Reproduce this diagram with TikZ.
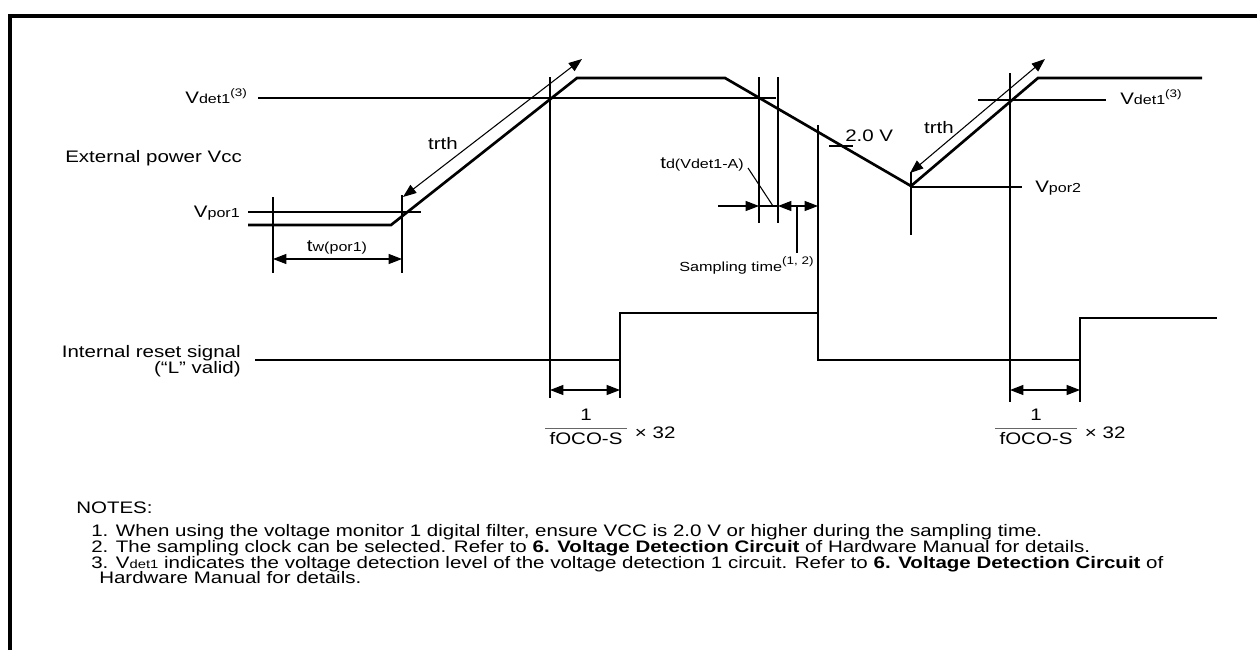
\documentclass[tikz,border=0pt]{standalone}
\usepackage{fontspec}
\setmainfont{Liberation Sans}
\usetikzlibrary{arrows.meta}
\newcommand\sx[1]{\scalebox{1.23}[1]{#1}}
\newcommand\lo[1]{\raisebox{-0.7pt}{\fontsize{9.8}{11}\selectfont #1}}
\newcommand\hi[1]{\raisebox{4.8pt}{\fontsize{8.2}{10}\selectfont #1}}
\newcommand\nlo[1]{\raisebox{-0.5pt}{\fontsize{9}{11}\selectfont #1}}
\begin{document}
\begin{tikzpicture}[x=0.75pt,y=-0.75pt,
  wave/.style={line width=2pt},
  thinl/.style={line width=0.8pt},
  dim/.style={line width=0.8pt,{Triangle[length=10pt,width=7.5pt]}-{Triangle[length=10pt,width=7.5pt]}},
  tip/.style={line width=0.8pt,-{Triangle[length=10pt,width=7.5pt]}},
  lbl/.style={font=\fontsize{12.5}{14}\selectfont,inner sep=0pt},
  small/.style={font=\fontsize{9.9}{12}\selectfont,inner sep=0pt},
  note/.style={font=\fontsize{12.5}{14}\selectfont,inner sep=0pt,anchor=base west}]
\useasboundingbox (0,0) rectangle (1257,650);
\draw[line width=2.5pt] (10,650) -- (10,16) -- (1257,16);

% Vcc waveform
\coordinate (a0) at (248,225);
\coordinate (a1) at (391,225);
\coordinate (a2) at (577,78);
\coordinate (a3) at (725,78);
\coordinate (a4) at (911,186);
\coordinate (a5) at (1038,78);
\coordinate (a6) at (1202,78);
\draw[wave] (a0) -- (a1) -- (a2) -- (a3) -- (a4) -- (a5) -- (a6);

% reset signal
\coordinate (r0) at (255,360);
\coordinate (r1) at (620,360);
\coordinate (r2) at (620,313);
\coordinate (r3) at (818,313);
\coordinate (r4) at (818,360);
\coordinate (r5) at (1080,360);
\coordinate (r6) at (1080,318);
\coordinate (r7) at (1217,318);
\draw[wave] (r0) -- (r1) -- (r2) -- (r3) -- (r4) -- (r5) -- (r6) -- (r7);

% level lines
\coordinate (vdl1) at (258,98);  \coordinate (vdl2) at (776,98);
\coordinate (vdr1) at (978,100); \coordinate (vdr2) at (1106,100);
\coordinate (vp1a) at (248,212); \coordinate (vp1b) at (421,212);
\coordinate (vp2a) at (911,187); \coordinate (vp2b) at (1022,187);
\draw[thinl] (vdl1) -- (vdl2);
\draw[thinl] (vdr1) -- (vdr2);
\draw[thinl] (vp1a) -- (vp1b);
\draw[thinl] (vp2a) -- (vp2b);

% vertical guide lines
\coordinate (g1t) at (273,197); \coordinate (g1b) at (273,273);
\coordinate (g2t) at (402,195); \coordinate (g2b) at (402,273);
\coordinate (g3t) at (550,77);  \coordinate (g3b) at (550,398);
\coordinate (g4t) at (759,77);  \coordinate (g4b) at (759,223);
\coordinate (g5t) at (778,77);  \coordinate (g5b) at (778,223);
\coordinate (g6t) at (818,125);
\coordinate (g7t) at (911,172); \coordinate (g7b) at (911,235);
\coordinate (g8t) at (1010,73); \coordinate (g8b) at (1010,402);
\coordinate (g9b) at (620,398);
\coordinate (g10b) at (1080,402);
\foreach \t/\b in {g1t/g1b,g2t/g2b,g3t/g3b,g4t/g4b,g5t/g5b,g6t/r4,g7t/g7b,g8t/g8b,r1/g9b,r5/g10b}
  \draw[thinl] (\t) -- (\b);

% trth arrows
\coordinate (t1a) at (403,197); \coordinate (t1b) at (582,59);
\coordinate (t2a) at (910,173); \coordinate (t2b) at (1045,59);
\draw[dim] (t1a) -- (t1b);
\draw[dim] (t2a) -- (t2b);

% tw arrow
\coordinate (tw1) at (273,259); \coordinate (tw2) at (402,259);
\draw[dim] (tw1) -- (tw2);

% reset delay arrows
\coordinate (d1a) at (550,390); \coordinate (d1b) at (620,390);
\coordinate (d2a) at (1010,390); \coordinate (d2b) at (1080,390);
\draw[dim] (d1a) -- (d1b);
\draw[dim] (d2a) -- (d2b);

% td / sampling arrows
\coordinate (s0) at (718,206);
\coordinate (s1) at (759,206);
\coordinate (s2) at (778,206);
\coordinate (s3) at (797,206);
\coordinate (s4) at (818,206);
\coordinate (s5) at (797,253);
\draw[tip] (s0) -- (s1);
\draw[thinl] (s1) -- (s2);
\draw[tip] (s3) -- (s2);
\draw[tip] (s3) -- (s4);
\draw[thinl] (s3) -- (s5);
\coordinate (ld1) at (748,168); \coordinate (ld2) at (773,206);
\draw[thinl] (ld1) -- (ld2);

% 2.0 V tick
\coordinate (k1) at (829,146); \coordinate (k2) at (853,146);
\draw[thinl] (k1) -- (k2);

% labels
\node[lbl,anchor=base east] (lvd1) at (247,103) {\sx{V\lo{det1}\hi{(3)}}};
\node[lbl,anchor=base west] (lext) at (65,162) {\sx{External power Vcc}};
\node[lbl,anchor=base east] (lvp1) at (240,217) {\sx{V\lo{por1}}};
\node[lbl,anchor=base] (ltw) at (337,251) {\sx{t\lo{w(por1)}}};
\node[lbl,anchor=base] (ltr1) at (443,149) {\sx{trth}};
\node[lbl,anchor=base] (ltr2) at (939,133) {\sx{trth}};
\node[lbl,anchor=base east] (ltd) at (744,168) {\sx{t\lo{d(Vdet1-A)}}};
\node[small,anchor=base west] (lsam) at (679,271) {\sx{Sampling time\hi{(1, 2)}}};
\node[lbl,anchor=base west] (l20) at (845,141) {\sx{2.0 V}};
\node[lbl,anchor=base west] (lvd2) at (1120,104) {\sx{V\lo{det1}\hi{(3)}}};
\node[lbl,anchor=base west] (lvp2) at (1035,192) {\sx{V\lo{por2}}};
\node[lbl,anchor=base east] (lrs1) at (241,357) {\sx{Internal reset signal}};
\node[lbl,anchor=base east] (lrs2) at (241,373) {\sx{(“L” valid)}};

% fractions
\node[lbl] (n1) at (586,415) {\sx{1}};
\node[lbl] (f1) at (586,439) {\sx{fOCO-S}};
\draw[line width=0.7pt,black!60] ([xshift=-3pt,yshift=3pt]f1.north west) coordinate (fr1a) -- ([xshift=3pt,yshift=3pt]f1.north east) coordinate (fr1b);
\node[lbl,anchor=west] (x1) at ([xshift=6pt,yshift=-3pt]fr1b) {\sx{× 32}};
\node[lbl] (n2) at (1036,415) {\sx{1}};
\node[lbl] (f2) at (1036,439) {\sx{fOCO-S}};
\draw[line width=0.7pt,black!60] ([xshift=-3pt,yshift=3pt]f2.north west) coordinate (fr2a) -- ([xshift=3pt,yshift=3pt]f2.north east) coordinate (fr2b);
\node[lbl,anchor=west] (x2) at ([xshift=6pt,yshift=-3pt]fr2b) {\sx{× 32}};

% notes
\node[note] (nt0) at (76,513) {\sx{NOTES:}};
\node[note] (nt1) at (91,536) {\sx{1. When using the voltage monitor 1 digital filter, ensure VCC is 2.0 V or higher during the sampling time.}};
\node[note] (nt2) at (91,552) {\sx{2. The sampling clock can be selected. Refer to \textbf{6. Voltage Detection Circuit} of Hardware Manual for details.}};
\node[note] (nt3) at (91,568) {\sx{3. V\nlo{det1} indicates the voltage detection level of the voltage detection 1 circuit. Refer to \textbf{6. Voltage Detection Circuit} of}};
\node[note] (nt4) at (99,583) {\sx{Hardware Manual for details.}};
\end{tikzpicture}
\end{document}
